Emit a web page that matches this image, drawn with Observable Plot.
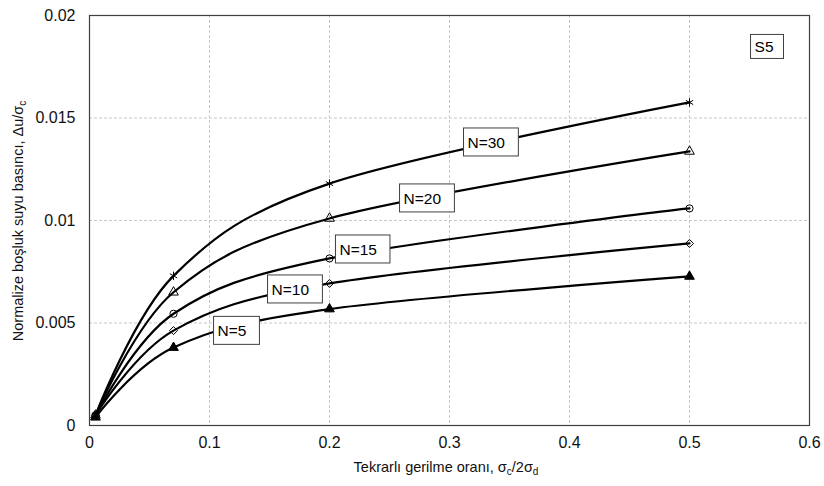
<!DOCTYPE html>
<html>
<head>
<meta charset="utf-8">
<script src="https://cdn.jsdelivr.net/npm/d3@7"></script>
<script src="https://cdn.jsdelivr.net/npm/@observablehq/plot@0.6"></script>
<style>
  html, body { margin: 0; padding: 0; background: #fff; }
  #chart { width: 824px; height: 486px; }
</style>
</head>
<body>
<div id="chart"></div>
<script>
// ---- data ----
const ratio = [0.005, 0.07, 0.2, 0.5];           // σc/2σd
const seriesNames = ["N=30", "N=20", "N=15", "N=10", "N=5"];
const n30 = [0.0005, 0.0073, 0.0118, 0.01576];
const n20 = [0.0005, 0.0065, 0.0101, 0.01337];
const n15 = [0.0005, 0.00545, 0.00815, 0.01059];
const n10 = [0.0005, 0.00463, 0.00693, 0.00888];
const n5  = [0.0004, 0.0038, 0.00568, 0.00727];
const seriesValues = [n30, n20, n15, n10, n5];
const seriesSymbols = ["asterisk", "triangle", "circle", "diamond2", "triangle"];
const seriesFilled = [false, false, false, false, true];

const labelText = ["N=30", "N=20", "N=15", "N=10", "N=5", "S5"];
const labelX = [0.315, 0.2617, 0.2083, 0.1517, 0.1067, 0.5542];
const labelY = [0.01378, 0.01105, 0.00856, 0.00661, 0.00459, 0.01844];

const xTicks = [0, 0.1, 0.2, 0.3, 0.4, 0.5, 0.6];
const yTicks = [0, 0.005, 0.01, 0.015, 0.02];

// ---- build table ----
const rows = seriesNames.flatMap((name, i) =>
  ratio.map((x, j) => ({series: name, x, y: seriesValues[i][j], idx: i})));
const labels = labelText.map((t, i) => ({t, x: labelX[i], y: labelY[i]}));

const marks = [
  Plot.gridX(xTicks.slice(1, -1), {stroke: "#c8c8c8", strokeOpacity: 1, strokeDasharray: "3,2"}),
  Plot.gridY(yTicks.slice(1, -1), {stroke: "#c8c8c8", strokeOpacity: 1, strokeDasharray: "3,2"}),
  Plot.axisX(xTicks, {tickSize: 0, tickPadding: 11, fontSize: 16, fill: "#111", tickFormat: d => String(d), label: null}),
  Plot.axisY(yTicks, {tickSize: 0, tickPadding: 14, fontSize: 16, fill: "#111", tickFormat: d => String(d), label: null}),
  Plot.frame({stroke: "#404040", strokeWidth: 1.2}),
];
seriesNames.forEach((name, i) => {
  const d = rows.filter(r => r.series === name);
  marks.push(Plot.line(d, {x: "x", y: "y", curve: "cardinal", stroke: "black", strokeWidth: 2.2}));
});
seriesNames.forEach((name, i) => {
  const d = rows.filter(r => r.series === name);
  marks.push(Plot.dot(d, {
    x: "x", y: "y", symbol: () => seriesSymbols[i], r: seriesSymbols[i] === "asterisk" ? 4 : 3.6,
    stroke: "black", strokeWidth: 1,
    fill: seriesFilled[i] ? "black" : "none"
  }));
});
marks.push(Plot.text(labels, {x: "x", y: "y", text: "t", textAnchor: "start", fontSize: 15.5, fill: "black"}));

const plot = Plot.plot({
  width: 824, height: 486,
  marginLeft: 89, marginRight: 15, marginTop: 15, marginBottom: 61,
  style: {fontFamily: "'Liberation Sans', Arial, sans-serif", background: "white"},
  x: {domain: [0, 0.6]},
  y: {domain: [0, 0.02]},
  symbol: {type: "identity"},
  marks
});
document.getElementById("chart").appendChild(plot);

// ---- label boxes (behind the label texts) ----
const svg = d3.select(plot);
svg.selectAll("g[aria-label=text] text").each(function() {
  const bb = this.getBBox();
  const isS5 = this.textContent === "S5";
  const h = isS5 ? 24 : 28;
  const cy = bb.y + bb.height / 2 - 0.5;
  const r = d3.select(this.parentNode).insert("rect", () => this)
    .attr("x", bb.x - 4).attr("y", cy - h / 2)
    .attr("width", bb.width + (isS5 ? 14 : 17)).attr("height", h)
    .attr("fill", "white").attr("stroke", "#404040").attr("stroke-width", 1);
  const tf = this.getAttribute("transform");
  if (tf) r.attr("transform", tf);
});

// ---- axis titles with subscripts ----
const yt = svg.append("text")
  .attr("transform", "translate(23,221) rotate(-90)")
  .attr("text-anchor", "middle").attr("font-size", 14.5).attr("fill", "#111");
yt.append("tspan").text("Normalize boşluk suyu basıncı, Δu/σ");
yt.append("tspan").attr("font-size", 10).attr("dy", 3).text("c");

const xt = svg.append("text")
  .attr("x", 446).attr("y", 472)
  .attr("text-anchor", "middle").attr("font-size", 14.5).attr("fill", "#111");
xt.append("tspan").text("Tekrarlı gerilme oranı, σ");
xt.append("tspan").attr("font-size", 10).attr("dy", 3).text("c");
xt.append("tspan").attr("dy", -3).text("/2σ");
xt.append("tspan").attr("font-size", 10).attr("dy", 3).text("d");
</script>
</body>
</html>
